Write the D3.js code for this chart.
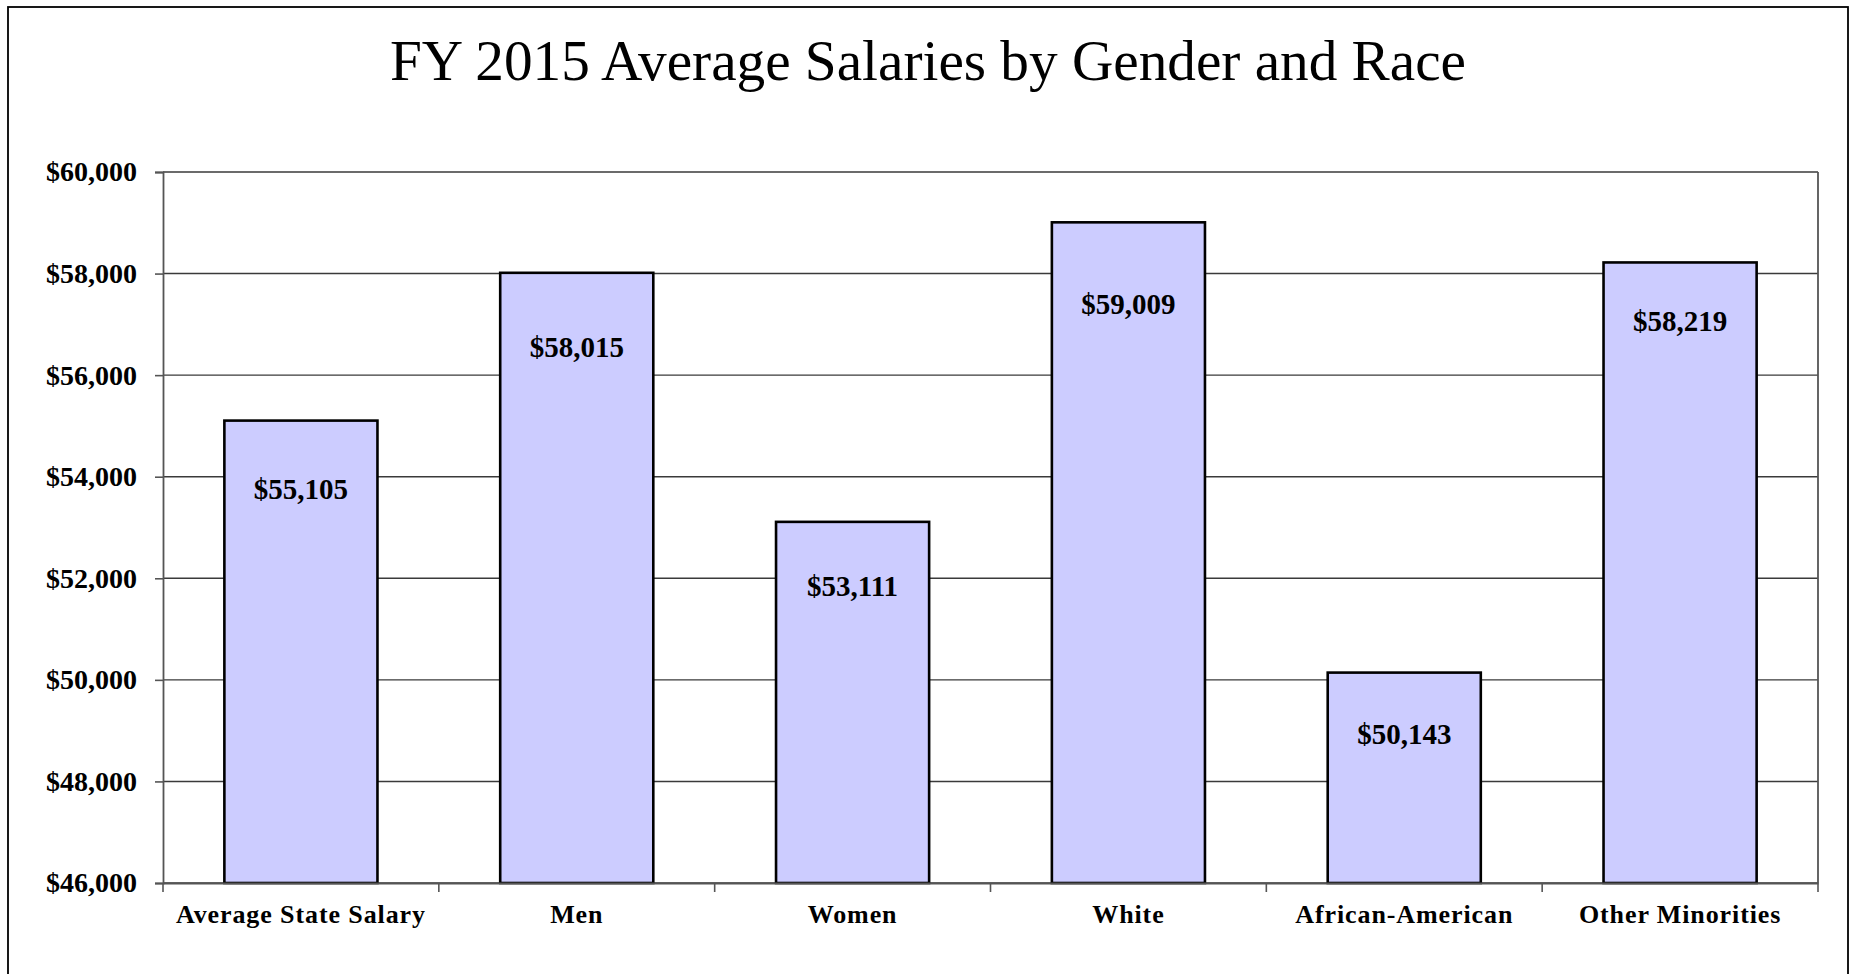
<!DOCTYPE html>
<html>
<head>
<meta charset="utf-8">
<script src="https://cdn.jsdelivr.net/npm/d3@7"></script>
<style>
  html, body { margin: 0; padding: 0; background: #fff; }
  svg { display: block; }
</style>
</head>
<body>
<svg id="chart" width="1858" height="974"></svg>
<script>
const title = "FY 2015 Average Salaries by Gender and Race";
const categories = ["Average State Salary", "Men", "Women", "White", "African-American", "Other Minorities"];
const salaries = [55105, 58015, 53111, 59009, 50143, 58219];
const yTicks = [46000, 48000, 50000, 52000, 54000, 56000, 58000, 60000];

// layout (not data)
const labelOffsets = [78, 84, 74, 92, 71, 69];
const W = 1858, H = 974;
const plot = { left: 163, top: 172, right: 1818, bottom: 883 };
const serif = "'Liberation Serif', 'Times New Roman', Times, serif";

const svg = d3.select("#chart");

// outer border
svg.append("rect")
  .attr("x", 8).attr("y", 7)
  .attr("width", 1840).attr("height", H + 20)
  .attr("fill", "#fff").attr("stroke", "#000").attr("stroke-width", 1.8);

// title
svg.append("text")
  .attr("x", 928).attr("y", 80)
  .attr("text-anchor", "middle")
  .attr("font-family", serif)
  .attr("font-size", 58)
  .attr("textLength", 1076)
  .attr("lengthAdjust", "spacingAndGlyphs")
  .attr("fill", "#000")
  .text(title);

const x = d3.scaleBand().domain(categories).range([plot.left, plot.right]).padding(0);
const y = d3.scaleLinear().domain([46000, 60000]).range([plot.bottom, plot.top]);

// gridlines
svg.append("g").selectAll("line").data(yTicks).join("line")
  .attr("x1", plot.left).attr("x2", plot.right)
  .attr("y1", d => y(d)).attr("y2", d => y(d))
  .attr("stroke", "#3a3a3a").attr("stroke-width", 1.4);

// right frame line
svg.append("line")
  .attr("x1", plot.right).attr("x2", plot.right)
  .attr("y1", plot.top).attr("y2", plot.bottom)
  .attr("stroke", "#555").attr("stroke-width", 1.8);

// bars
const barFrac = 0.555;
const bars = svg.append("g");
bars.selectAll("rect").data(categories).join("rect")
  .attr("x", d => x(d) + x.bandwidth() * (1 - barFrac) / 2)
  .attr("width", x.bandwidth() * barFrac)
  .attr("y", (d, i) => y(salaries[i]))
  .attr("height", (d, i) => y(46000) - y(salaries[i]))
  .attr("fill", "#CCCCFF")
  .attr("stroke", "#000")
  .attr("stroke-width", 2.6);

// value labels
svg.append("g").selectAll("text").data(categories).join("text")
  .attr("x", d => x(d) + x.bandwidth() / 2)
  .attr("y", (d, i) => y(salaries[i]) + labelOffsets[i])
  .attr("text-anchor", "middle")
  .attr("font-family", serif)
  .attr("font-weight", "bold")
  .attr("font-size", 29)
  .attr("fill", "#000")
  .text((d, i) => d3.format("$,")(salaries[i]));

// y axis
const yAxis = svg.append("g")
  .attr("transform", `translate(${plot.left},0)`)
  .call(d3.axisLeft(y).tickValues(yTicks).tickSize(8).tickPadding(18).tickFormat(d3.format("$,")));
yAxis.select(".domain").attr("stroke", "#555").attr("stroke-width", 1.8);
yAxis.selectAll(".tick line").attr("stroke", "#555").attr("stroke-width", 1.6);
yAxis.selectAll(".tick text")
  .attr("font-family", serif).attr("font-weight", "bold").attr("font-size", 28).attr("fill", "#000");

// x axis
const xAxis = svg.append("g")
  .attr("transform", `translate(0,${plot.bottom})`)
  .call(d3.axisBottom(x).tickSize(0).tickPadding(22));
xAxis.select(".domain").attr("stroke", "#555").attr("stroke-width", 1.8);
xAxis.selectAll(".tick text")
  .attr("font-family", serif).attr("font-weight", "bold").attr("font-size", 26)
  .attr("letter-spacing", 0.9).attr("fill", "#000");

// category boundary ticks
const boundaries = categories.map(d => x(d)).concat([plot.right]);
svg.append("g").selectAll("line").data(boundaries).join("line")
  .attr("x1", d => d).attr("x2", d => d)
  .attr("y1", plot.bottom).attr("y2", plot.bottom + 9)
  .attr("stroke", "#555").attr("stroke-width", 1.6);
</script>
</body>
</html>
